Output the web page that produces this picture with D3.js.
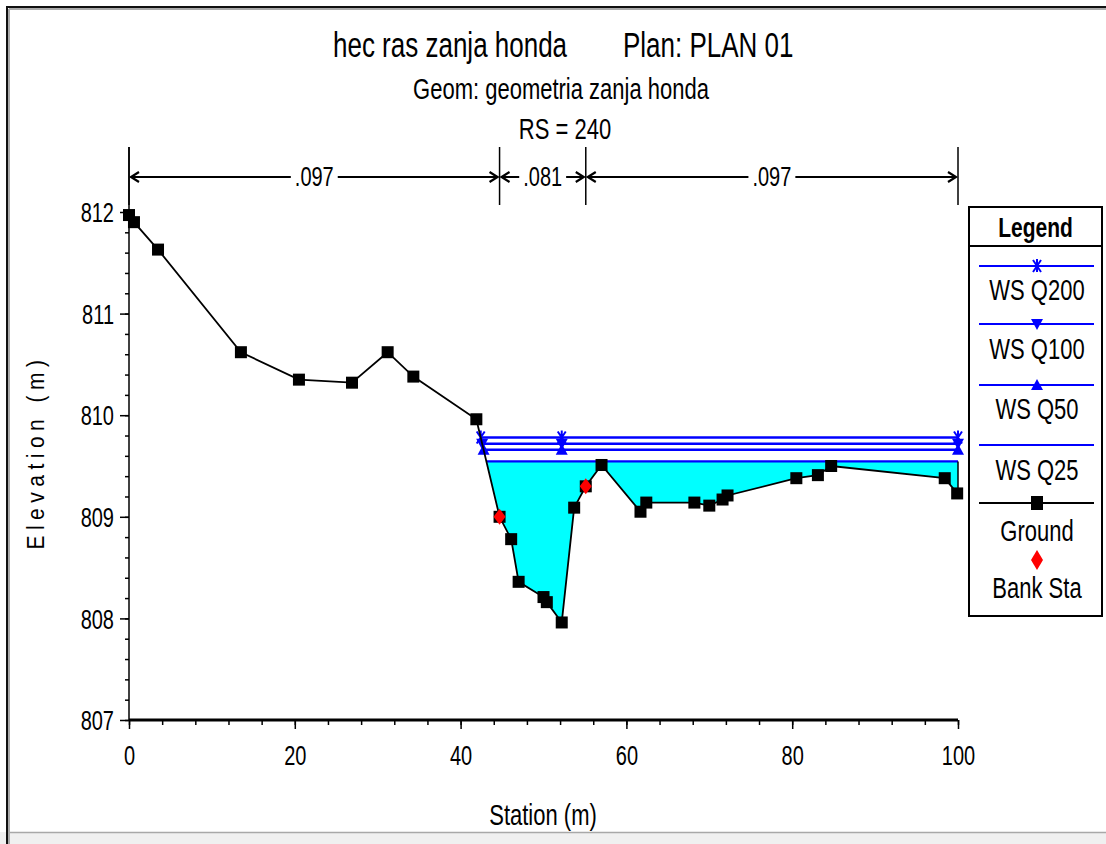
<!DOCTYPE html>
<html>
<head>
<meta charset="utf-8">
<script src="https://cdn.jsdelivr.net/npm/d3@7/dist/d3.min.js"></script>
<style>
  html, body { margin: 0; padding: 0; background: #fff; }
  svg { display: block; }
  text { font-family: "Liberation Sans", Arial, sans-serif; fill: #000; }
</style>
</head>
<body>
<svg id="chart" width="1106" height="844"></svg>
<script>
// ---------------- data ----------------
const groundStation = [0, 0.6, 3.5, 13.5, 20.5, 26.9, 31.2, 34.3, 41.9, 44.7, 46.1, 47.0, 50.0, 50.4, 52.2, 53.7, 55.1, 57.0, 61.7, 62.4, 68.2, 70.0, 71.6, 72.2, 80.5, 83.1, 84.7, 98.4, 99.9];
const groundElev    = [811.97, 811.90, 811.63, 810.62, 810.35, 810.32, 810.62, 810.38, 809.96, 809.00, 808.78, 808.36, 808.21, 808.16, 807.96, 809.09, 809.30, 809.51, 809.05, 809.14, 809.14, 809.11, 809.17, 809.21, 809.38, 809.41, 809.50, 809.38, 809.23];
const bankStation = [44.7, 55.1];
const bankElev    = [809.00, 809.30];
const wsNames = ["WS Q200", "WS Q100", "WS Q50", "WS Q25"];
const wsElev  = [809.78, 809.72, 809.66, 809.545];
const wsMarkers = ["x", "down", "up", "none"];
const wsMarkerStations = [52.2, 100];
const nBreaks = [0, 44.7, 55.1, 100];
const nValues = [".097", ".081", ".097"];
const xTicks = [0, 20, 40, 60, 80, 100];
const yTicks = [807, 808, 809, 810, 811, 812];
const titleParts = ["hec ras zanja honda", "Plan: PLAN 01"];
const subTitle1 = "Geom: geometria zanja honda";
const subTitle2 = "RS = 240";

// ---------------- setup ----------------
const svg = d3.select("#chart");
const SY = 1.35; // vertical text stretch seen in the reference
const x = d3.scaleLinear().domain([0, 100]).range([129, 958]);
const y = d3.scaleLinear().domain([807, 812]).range([720, 212]);

function txt(parent, px, py, s, size, anchor, extra) {
  const t = parent.append("text")
    .attr("transform", `translate(${px},${py}) scale(1,${SY})`)
    .attr("font-size", size)
    .attr("text-anchor", anchor || "start")
    .text(s);
  if (extra) extra(t);
  return t;
}

// frame
svg.append("rect").attr("x", 0).attr("y", 832).attr("width", 1106).attr("height", 12).attr("fill", "#f0f0f0");
svg.append("line").attr("x1", 10).attr("x2", 1106).attr("y1", 832.5).attr("y2", 832.5).attr("stroke", "#a8a8a8").attr("stroke-width", 1.5);
svg.append("line").attr("x1", 7).attr("x2", 7).attr("y1", 6).attr("y2", 844).attr("stroke", "#111").attr("stroke-width", 2);
svg.append("line").attr("x1", 9).attr("x2", 9).attr("y1", 9).attr("y2", 844).attr("stroke", "#aaa").attr("stroke-width", 2);
svg.append("line").attr("x1", 6).attr("x2", 1106).attr("y1", 7).attr("y2", 7).attr("stroke", "#111").attr("stroke-width", 2);
svg.append("line").attr("x1", 9).attr("x2", 1106).attr("y1", 9).attr("y2", 9).attr("stroke", "#aaa").attr("stroke-width", 2);

// titles
txt(svg, 333, 57, titleParts[0], 26, "start");
txt(svg, 623, 57, titleParts[1], 26, "start");
txt(svg, 561, 99, subTitle1, 22, "middle");
txt(svg, 565, 139, subTitle2, 22, "middle");

// ---------------- Manning's n bar ----------------
const nY = 177;
const nG = svg.append("g");
nBreaks.forEach(b => {
  nG.append("line").attr("x1", x(b)).attr("x2", x(b)).attr("y1", 147).attr("y2", 205)
    .attr("stroke", "#000").attr("stroke-width", 1.5);
});
nValues.forEach((v, i) => {
  const a = x(nBreaks[i]) + 2, b = x(nBreaks[i + 1]) - 2;
  nG.append("line").attr("x1", a).attr("x2", b).attr("y1", nY).attr("y2", nY)
    .attr("stroke", "#000").attr("stroke-width", 1.8);
  nG.append("path").attr("d", `M${a + 8},${nY - 5}L${a},${nY}L${a + 8},${nY + 5}`)
    .attr("fill", "none").attr("stroke", "#000").attr("stroke-width", 2.2);
  nG.append("path").attr("d", `M${b - 8},${nY - 5}L${b},${nY}L${b - 8},${nY + 5}`)
    .attr("fill", "none").attr("stroke", "#000").attr("stroke-width", 2.2);
  const cx = (a + b) / 2;
  const t = txt(nG, cx, nY + 9, v, 20, "middle");
  const w = t.node().getComputedTextLength();
  nG.insert("rect", "text:last-of-type").attr("x", cx - w / 2 - 4).attr("y", nY - 4).attr("width", w + 8).attr("height", 8).attr("fill", "#fff");
});
nG.selectAll("text").raise();

// ---------------- axes ----------------
const axG = svg.append("g");
axG.append("line").attr("x1", x(0)).attr("x2", x(0)).attr("y1", 147).attr("y2", y(807))
  .attr("stroke", "#000").attr("stroke-width", 1.5);

const xMinor = axG.append("g").attr("transform", `translate(0,${y(807)})`)
  .call(d3.axisBottom(x).tickValues(d3.range(0, 101, 4)).tickSize(5).tickFormat(""));
const xMajor = axG.append("g").attr("transform", `translate(0,${y(807)})`)
  .call(d3.axisBottom(x).tickValues(xTicks).tickSize(9).tickPadding(20).tickFormat(d3.format("d")));
const yMinor = axG.append("g").attr("transform", `translate(${x(0)},0)`)
  .call(d3.axisLeft(y).tickValues(d3.range(0, 26).map(i => 807 + i * 0.2)).tickSize(4).tickFormat(""));
const yMajor = axG.append("g").attr("transform", `translate(${x(0)},0)`)
  .call(d3.axisLeft(y).tickValues(yTicks).tickSize(9).tickPadding(4).tickFormat(d3.format("d")));

[xMinor, xMajor, yMinor, yMajor].forEach(g => {
  g.select(".domain").remove();
  g.selectAll(".tick line").attr("stroke", "#000").attr("stroke-width", 1.5);
});
xMajor.selectAll(".tick text").attr("font-size", 20)
  .attr("font-family", '"Liberation Sans", Arial, sans-serif')
  .attr("transform", `scale(1,${SY})`).attr("y", 19).attr("dy", "0.71em");
yMajor.selectAll(".tick text").attr("font-size", 20)
  .attr("font-family", '"Liberation Sans", Arial, sans-serif')
  .attr("transform", `scale(1,${SY})`).attr("x", -15).attr("dy", "0.36em");
// y labels: scale about own center (adjust y since scale applies to y attribute)
yMajor.selectAll(".tick text").attr("y", 0);
axG.append("line").attr("x1", x(0)).attr("x2", x(100)).attr("y1", y(807)).attr("y2", y(807))
  .attr("stroke", "#000").attr("stroke-width", 3);

// axis titles
txt(svg, 543, 825, "Station (m)", 22, "middle");
svg.append("text")
  .attr("transform", `translate(44,452) rotate(-90) scale(1,1.15)`)
  .attr("font-size", 21).attr("letter-spacing", 5.5).attr("text-anchor", "middle")
  .text("Elevation (m)");

// ---------------- water ----------------
const ground = groundStation.map((s, i) => ({ s, e: groundElev[i] }));

function leftIntersect(ws) {
  for (let i = 0; i < ground.length - 1; i++) {
    const a = ground[i], b = ground[i + 1];
    if (a.e >= ws && b.e < ws) {
      const t = (a.e - ws) / (a.e - b.e);
      return a.s + t * (b.s - a.s);
    }
  }
  return ground[0].s;
}

const plotG = svg.append("g");
const ws25 = wsElev[3];
const xl25 = leftIntersect(ws25);
const fillPts = [{ s: xl25, e: ws25 }]
  .concat(ground.filter(p => p.s > xl25).map(p => ({ s: p.s, e: Math.min(p.e, ws25) })));
const lastGround = ground[ground.length - 1];
fillPts.push({ s: 100, e: Math.min(lastGround.e, ws25) });
plotG.append("path")
  .datum(fillPts)
  .attr("d", d3.area().x(d => x(d.s)).y0(d => y(d.e)).y1(y(ws25)))
  .attr("fill", "#00ffff");

function drawMarker(g, type, cx, cy) {
  if (type === "x") {
    g.append("path").attr("d", `M${cx - 4},${cy - 6}L${cx + 4},${cy + 6}M${cx + 4},${cy - 6}L${cx - 4},${cy + 6}M${cx},${cy - 7}L${cx},${cy + 6}`)
      .attr("stroke", "#0000ff").attr("stroke-width", 2).attr("fill", "none");
  } else if (type === "down") {
    g.append("path").attr("d", `M${cx - 6},${cy - 5}L${cx + 6},${cy - 5}L${cx},${cy + 6}Z`).attr("fill", "#0000ff");
  } else if (type === "up") {
    g.append("path").attr("d", `M${cx - 6},${cy + 5}L${cx + 6},${cy + 5}L${cx},${cy - 6}Z`).attr("fill", "#0000ff");
  }
}
wsElev.forEach((ws, i) => {
  const xl = leftIntersect(ws);
  plotG.append("line").attr("x1", x(xl)).attr("x2", x(100)).attr("y1", y(ws)).attr("y2", y(ws))
    .attr("stroke", "#0000ff").attr("stroke-width", i < 3 ? 2.5 : 2.2);
  [xl].concat(wsMarkerStations).forEach(s => drawMarker(plotG, wsMarkers[i], x(s), y(ws)));
});

plotG.append("line").attr("x1", x(100)).attr("x2", x(100)).attr("y1", y(ws25)).attr("y2", y(lastGround.e))
  .attr("stroke", "#000").attr("stroke-width", 1.5);

// ground
plotG.append("path").datum(ground)
  .attr("d", d3.line().x(d => x(d.s)).y(d => y(d.e)))
  .attr("fill", "none").attr("stroke", "#000").attr("stroke-width", 1.8);
plotG.selectAll("rect.g").data(ground).join("rect").attr("class", "g")
  .attr("x", d => x(d.s) - 6).attr("y", d => y(d.e) - 6).attr("width", 12).attr("height", 12).attr("fill", "#000");

// bank stations
plotG.selectAll("path.bank").data(bankStation).join("path").attr("class", "bank")
  .attr("d", (d, i) => { const cx = x(d), cy = y(bankElev[i]); return `M${cx},${cy - 8}L${cx + 6},${cy}L${cx},${cy + 8}L${cx - 6},${cy}Z`; })
  .attr("fill", "#ff0000");

// ---------------- legend ----------------
const lg = svg.append("g");
const LX = 969, LY = 207, LW = 133, LH = 409;
lg.append("rect").attr("x", LX).attr("y", LY).attr("width", LW).attr("height", LH)
  .attr("fill", "#fff").attr("stroke", "#000").attr("stroke-width", 2);
lg.append("line").attr("x1", LX).attr("x2", LX + LW).attr("y1", 246).attr("y2", 246)
  .attr("stroke", "#000").attr("stroke-width", 2);
txt(lg, LX + LW / 2, 237, "Legend", 21, "middle", t => t.attr("font-weight", "bold"));
const lineYs = [266, 324, 385, 445, 503];
const labYs = [300, 359, 419, 480, 541];
const lcx = 1037;
wsNames.forEach((n, i) => {
  lg.append("line").attr("x1", 979).attr("x2", 1094).attr("y1", lineYs[i]).attr("y2", lineYs[i])
    .attr("stroke", "#0000ff").attr("stroke-width", 2);
  drawMarker(lg, wsMarkers[i], lcx, lineYs[i]);
  txt(lg, lcx, labYs[i], n, 22, "middle");
});
lg.append("line").attr("x1", 979).attr("x2", 1094).attr("y1", lineYs[4]).attr("y2", lineYs[4])
  .attr("stroke", "#000").attr("stroke-width", 2);
lg.append("rect").attr("x", lcx - 6).attr("y", lineYs[4] - 7).attr("width", 12).attr("height", 14).attr("fill", "#000");
txt(lg, lcx, labYs[4], "Ground", 22, "middle");
lg.append("path").attr("d", `M${lcx},${550}L${lcx + 6},${560}L${lcx},${570}L${lcx - 6},${560}Z`).attr("fill", "#ff0000");
txt(lg, lcx, 598, "Bank Sta", 22, "middle");
</script>
</body>
</html>
